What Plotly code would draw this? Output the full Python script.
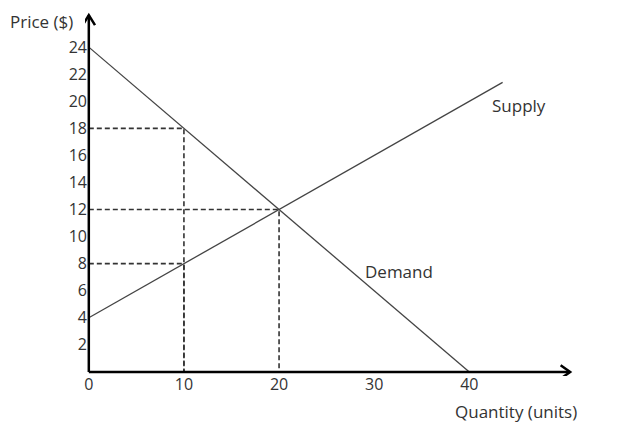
import plotly.graph_objects as go

# data
demand_q = [0, 40]
demand_p = [24, 0]
supply_q = [0, 43.5]
supply_p = [4, 21.4]
# reference points (quantity, price) marked with dashed guides
guide_q = [10, 20, 10]
guide_p = [18, 12, 8]
x_ticks = [0, 10, 20, 30, 40]
y_ticks = [2, 4, 6, 8, 10, 12, 14, 16, 18, 20, 22, 24]

X_MAX = 50.6   # tip of the quantity arrow
Y_MAX = 26.37  # tip of the price arrow
font = dict(family="Open Sans, sans-serif", size=16, color="#333")
label_font = dict(family="Open Sans, sans-serif", size=17, color="#333")
axis_line = dict(color="black", width=2.5)

fig = go.Figure()

# dashed guides
for q, p in zip(guide_q, guide_p):
    fig.add_trace(go.Scatter(x=[0, q, q], y=[p, p, 0], mode="lines",
                             line=dict(color="#333", width=1.6, dash="5px,3px"),
                             hoverinfo="skip", showlegend=False))

fig.add_trace(go.Scatter(x=demand_q, y=demand_p, mode="lines", name="Demand",
                         line=dict(color="#444", width=1.3), showlegend=False))
fig.add_trace(go.Scatter(x=supply_q, y=supply_p, mode="lines", name="Supply",
                         line=dict(color="#444", width=1.3), showlegend=False))

# axes with arrow heads
fig.add_shape(type="line", x0=0, y0=0, x1=X_MAX, y1=0, line=axis_line)
fig.add_shape(type="line", x0=0, y0=0, x1=0, y1=Y_MAX, line=axis_line)
fig.add_shape(type="path",
              path=f"M {X_MAX-1.0},-0.5 L {X_MAX},0 L {X_MAX-1.0},0.5",
              line=axis_line)
fig.add_shape(type="path",
              path=f"M -0.65,{Y_MAX-0.75} L 0,{Y_MAX} L 0.65,{Y_MAX-0.75}",
              line=axis_line)

fig.add_annotation(x=28.8, y=7.4, text="Demand", showarrow=False,
                   xanchor="left", font=label_font)
fig.add_annotation(x=42.2, y=19.7, text="Supply", showarrow=False,
                   xanchor="left", font=label_font)
fig.add_annotation(x=-0.158, y=0.97, xref="paper", yref="paper", text="Price ($)",
                   showarrow=False, xanchor="left", yanchor="middle", font=label_font)
fig.add_annotation(x=0.754, y=-0.096, xref="paper", yref="paper", text="Quantity (units)",
                   showarrow=False, xanchor="left", yanchor="middle", font=label_font)

# page body has an 8px margin, so the figure is sized to fit inside it
fig.update_layout(
    width=601, height=418,
    margin=dict(l=77, r=36, t=3, b=50),
    plot_bgcolor="white", paper_bgcolor="white",
    font=font,
    xaxis=dict(range=[-0.4, X_MAX + 0.3], tickvals=x_ticks, showgrid=False,
               zeroline=False, showline=False, ticks="", ticklabelstandoff=-3),
    yaxis=dict(range=[-0.3, Y_MAX + 0.3], tickvals=y_ticks, showgrid=False,
               zeroline=False, showline=False, ticks="", ticklabelstandoff=-3),
)

fig.write_html("out.html")
